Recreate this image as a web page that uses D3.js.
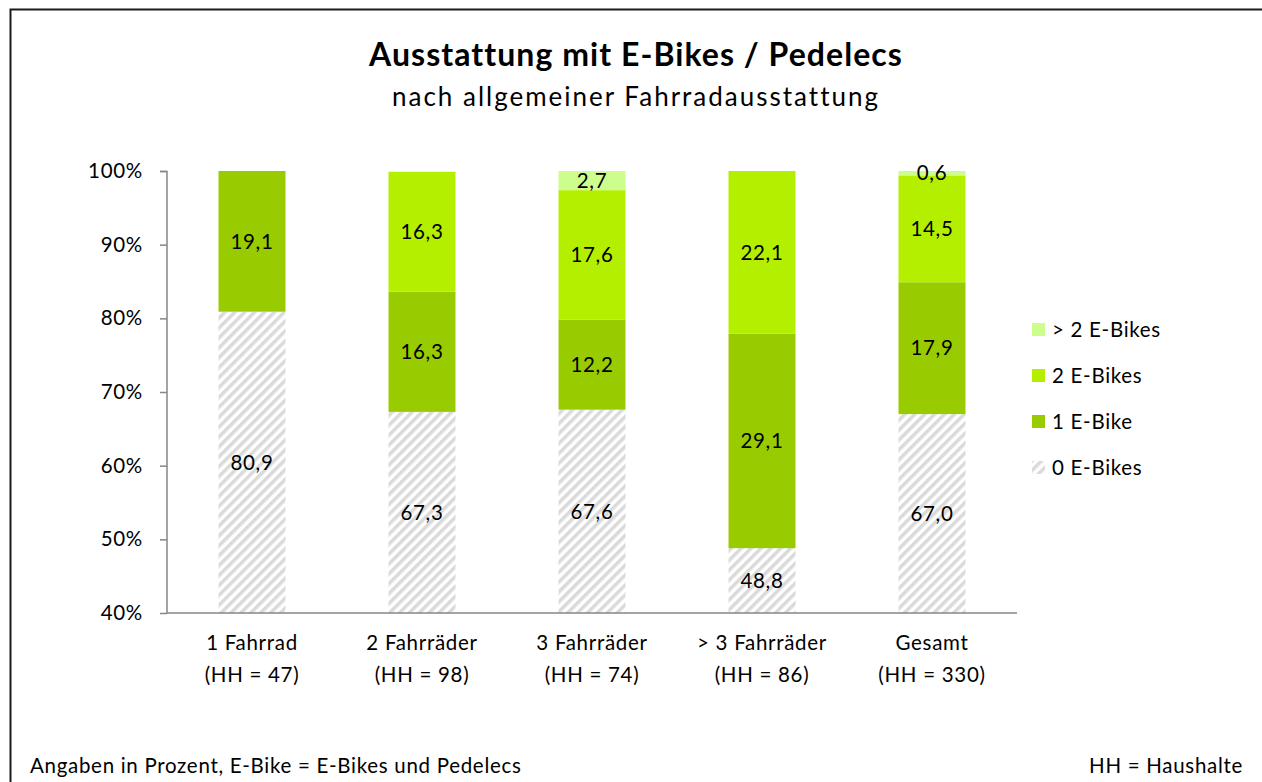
<!DOCTYPE html>
<html>
<head>
<meta charset="utf-8">
<style>
  body { margin: 0; background: #fff; }
  #chart text { font-family: Lato, "Open Sans", sans-serif; fill: #000; letter-spacing: 0.7px; }
</style>
<script src="https://d3js.org/d3.v7.min.js"></script>
</head>
<body>
<svg id="chart" width="1262" height="782"></svg>
<script>
// categories (two-line labels)
var categories = ["1 Fahrrad", "2 Fahrräder", "3 Fahrräder", "> 3 Fahrräder", "Gesamt"];
var catSub = ["(HH = 47)", "(HH = 98)", "(HH = 74)", "(HH = 86)", "(HH = 330)"];
// series, in stacking order (bottom to top)
var seriesNames = ["0 E-Bikes", "1 E-Bike", "2 E-Bikes", "> 2 E-Bikes"];
var zero = [80.9, 67.3, 67.6, 48.8, 67.0];
var one = [19.1, 16.3, 12.2, 29.1, 17.9];
var two = [0, 16.3, 17.6, 22.1, 14.5];
var more = [0, 0, 2.7, 0, 0.6];
var yTicks = [40, 50, 60, 70, 80, 90, 100];

var colors = ["url(#hatch)", "#99cc00", "#b5ef00", "#cdfd8c"];
var seriesValues = [zero, one, two, more];
var fs = "20.5px";

var svg = d3.select("#chart");

// hatch pattern for "0 E-Bikes"
var defs = svg.append("defs");
var pat = defs.append("pattern")
    .attr("id", "hatch")
    .attr("patternUnits", "userSpaceOnUse")
    .attr("width", 7).attr("height", 7)
    .attr("patternTransform", "rotate(45)");
pat.append("rect").attr("width", 7).attr("height", 7).attr("fill", "#fff");
pat.append("rect").attr("width", 3.5).attr("height", 7).attr("fill", "#dadada");

// outer frame
svg.append("path")
    .attr("d", "M10.5,782 V9.5 H1262")
    .attr("fill", "none").attr("stroke", "#1a1a1a").attr("stroke-width", 2);

// title
svg.append("text").attr("x", 636).attr("y", 66).attr("text-anchor", "middle")
    .style("font-size", "32px").style("font-weight", "bold").style("letter-spacing", "1.05px")
    .text("Ausstattung mit E-Bikes / Pedelecs");
svg.append("text").attr("x", 636).attr("y", 106).attr("text-anchor", "middle")
    .style("font-size", "26px").style("letter-spacing", "2px")
    .text("nach allgemeiner Fahrradausstattung");

var x = d3.scaleBand().domain(categories).range([167, 1017]).paddingInner(0.606).paddingOuter(0.303);
var y = d3.scaleLinear().domain([40, 100]).range([613, 171]);

// stacked data
var rows = categories.map(function(c, i) {
  var r = { cat: c };
  seriesNames.forEach(function(s, j) { r[s] = seriesValues[j][i]; });
  return r;
});
var stack = d3.stack().keys(seriesNames)(rows);

var layer = svg.selectAll("g.layer").data(stack).enter().append("g")
    .attr("class", "layer")
    .attr("fill", function(d, i) { return colors[i]; });

layer.selectAll("rect").data(function(d) { return d; }).enter().append("rect")
    .attr("x", function(d) { return x(d.data.cat); })
    .attr("width", x.bandwidth())
    .attr("y", function(d) { return y(Math.min(100, d[1])); })
    .attr("height", function(d) {
      var lo = Math.max(40, d[0]), hi = Math.min(100, d[1]);
      return Math.max(0, y(lo) - y(hi));
    });

// labels
layer.selectAll("text").data(function(d) { return d.filter(function(p) { return p[1] - p[0] > 0; }); })
  .enter().append("text")
    .attr("x", function(d) { return x(d.data.cat) + x.bandwidth() / 2; })
    .attr("y", function(d) {
      var lo = Math.max(40, d[0]), hi = Math.min(100, d[1]);
      return y((lo + hi) / 2);
    })
    .attr("dy", "0.35em")
    .attr("text-anchor", "middle")
    .style("font-size", fs)
    .text(function(d) { return d3.format(".1f")(d[1] - d[0]).replace(".", ","); });

// y axis
var yAxis = svg.append("g").attr("transform", "translate(167,0)")
    .call(d3.axisLeft(y).tickValues(yTicks).tickSize(7).tickPadding(17)
      .tickFormat(function(d) { return d + "%"; }));
yAxis.selectAll("line, path").attr("stroke", "#868686").attr("stroke-width", 1.5);
yAxis.select("path").attr("d", "M-7,171.5 H0 V613");
yAxis.selectAll("text").style("font-size", fs).attr("fill", "#000");

// x axis
var xAxis = svg.append("g").attr("transform", "translate(0,613)")
    .call(d3.axisBottom(x).tickSize(0).tickPadding(0));
xAxis.select("path").attr("stroke", "#868686").attr("stroke-width", 1.5).attr("d", "M167,0 H1017");
xAxis.selectAll(".tick text").remove();
xAxis.selectAll(".tick").each(function(d, i) {
  var t = d3.select(this).append("text").attr("text-anchor", "middle").attr("fill", "#000")
      .style("font-size", fs);
  t.append("tspan").attr("x", 0).attr("y", 37).text(d);
  t.append("tspan").attr("x", 0).attr("y", 69).text(catSub[i]);
});

// legend (top to bottom: reverse order)
var legendItems = seriesNames.slice().reverse();
var legColors = colors.slice().reverse();
var leg = svg.selectAll("g.leg").data(legendItems).enter().append("g")
    .attr("class", "leg")
    .attr("transform", function(d, i) { return "translate(1032," + (330 + i * 46) + ")"; });
leg.append("rect").attr("x", 0).attr("y", -7).attr("width", 13).attr("height", 13)
    .attr("fill", function(d, i) { return legColors[i]; });
leg.append("text").attr("x", 20).attr("dy", "0.35em").style("font-size", fs)
    .text(function(d) { return d; });

// footer
svg.append("text").attr("x", 30).attr("y", 773).style("font-size", fs)
    .text("Angaben in Prozent, E-Bike = E-Bikes und Pedelecs");
svg.append("text").attr("x", 1243).attr("y", 773).attr("text-anchor", "end").style("font-size", fs)
    .text("HH = Haushalte");
</script>
</body>
</html>
